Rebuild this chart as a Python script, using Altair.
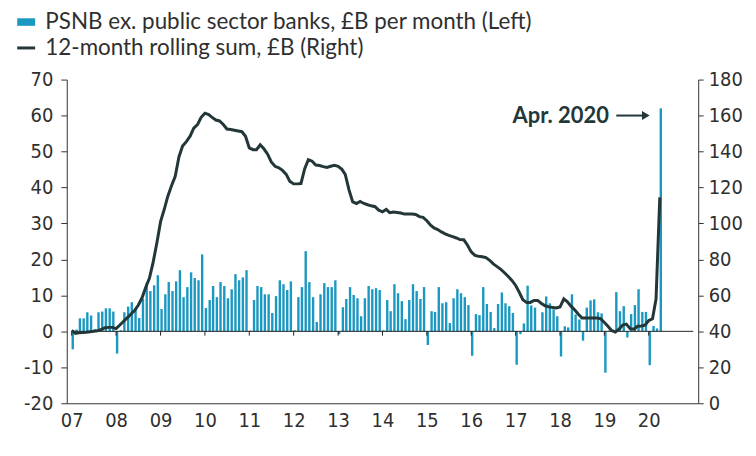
import altair as alt
import pandas as pd

# ---- data ----
bar_2007 = [-5.0, 0.5, 3.6, 3.6, 5.3, 4.4, 0.6, 5.3, 5.5, 6.4, 6.4, 5.5]
bar_2008 = [-6.2, 0.3, 5.3, 6.9, 8.1, 6.4, 3.7, 9.0, 13.4, 11.2, 12.8, 15.6]
bar_2009 = [6.2, 10.3, 13.7, 11.2, 13.9, 17.0, 9.5, 12.3, 16.4, 14.8, 14.2, 21.4]
bar_2010 = [6.5, 8.7, 12.6, 9.5, 13.7, 12.6, 9.2, 11.7, 15.9, 14.2, 15.0, 17.0]
bar_2011 = [0.2, 8.7, 12.6, 12.3, 10.3, 10.3, 5.1, 9.8, 14.2, 13.1, 11.5, 13.9]
bar_2012 = [0.3, 9.5, 12.3, 22.3, 13.7, 9.5, 2.6, 10.3, 13.4, 12.3, 12.3, 14.2]
bar_2013 = [-0.8, 6.7, 9.0, 12.3, 10.1, 9.2, 4.2, 9.2, 12.6, 11.7, 12.0, 11.5]
bar_2014 = [0.3, 8.7, 5.6, 13.1, 10.6, 8.4, 3.4, 8.7, 13.1, 11.2, 9.0, 12.3]
bar_2015 = [-3.8, 5.6, 5.4, 12.3, 7.8, 8.1, 2.3, 9.2, 11.7, 10.6, 9.5, 7.3]
bar_2016 = [-6.8, 4.8, 4.5, 12.3, 7.6, 5.4, 0.9, 7.6, 10.8, 7.8, 7.0, 5.1]
bar_2017 = [-9.3, -0.8, 2.2, 12.7, 7.2, 6.6, 0.2, 5.3, 9.7, 7.8, 6.1, 4.2]
bar_2018 = [-7.0, 1.4, 1.1, 10.3, 4.7, 3.3, -2.6, 6.6, 8.6, 8.9, 5.3, 5.0]
bar_2019 = [-11.5, 0.2, 0.1, 10.9, 5.6, 7.0, -1.7, 4.8, 7.3, 11.7, 5.4, 5.4]
bar_2020 = [-9.4, 1.5, 0.8, 62.0]

sum_2007 = [40.5, 38.8, 39.2, 39.4, 39.5, 39.8, 40.0, 40.3, 41.0, 42.0, 42.2, 42.2]
sum_2008 = [41.5, 43.5, 45.5, 47.5, 49.5, 51.5, 54.5, 58.5, 64.5, 69.5, 78.5, 89.0]
sum_2009 = [101, 108, 115, 121, 126, 137, 143, 145.5, 148.5, 153, 155, 159]
sum_2010 = [161.3, 160.5, 159, 157.5, 157, 155, 152.5, 152.2, 151.8, 151.4, 151, 148.5]
sum_2011 = [142, 141, 141, 143.7, 141.5, 138.5, 134.2, 131.8, 130.9, 129.5, 127.3, 123.4]
sum_2012 = [122.0, 122.0, 122.2, 130.5, 135.5, 134.6, 132.5, 132.2, 131.6, 131.1, 131.8, 132.3]
sum_2013 = [131.8, 130.1, 127.2, 118.5, 112.0, 111.1, 112.2, 111.1, 110.4, 109.8, 109.3, 107.4]
sum_2014 = [106.5, 107.8, 106.0, 106.3, 106.1, 105.8, 105.2, 105.2, 105.2, 105.0, 103.8, 103.4]
sum_2015 = [101.5, 99.0, 97.5, 96.6, 95.3, 94.2, 93.4, 92.7, 91.9, 91.0, 90.9, 88.0]
sum_2016 = [84.2, 82.2, 81.8, 81.5, 81.0, 79.5, 77.5, 76.0, 74.5, 72.6, 70.5, 68.3]
sum_2017 = [65.5, 61.5, 57.6, 56.1, 56.1, 57.2, 57.2, 55.5, 54.2, 53.6, 53.3, 53.0]
sum_2018 = [53.5, 58.0, 56.5, 54.0, 52.0, 49.5, 47.4, 47.4, 47.4, 47.4, 47.4, 47.0]
sum_2019 = [44.9, 42.7, 40.5, 39.6, 41.2, 43.5, 44.0, 41.5, 41.2, 42.8, 43.0, 43.4]
sum_2020 = [46.0, 47.0, 58.0, 114.5]

years = list(range(2007, 2021))
bar_series = [bar_2007, bar_2008, bar_2009, bar_2010, bar_2011, bar_2012, bar_2013,
              bar_2014, bar_2015, bar_2016, bar_2017, bar_2018, bar_2019, bar_2020]
sum_series = [sum_2007, sum_2008, sum_2009, sum_2010, sum_2011, sum_2012, sum_2013,
              sum_2014, sum_2015, sum_2016, sum_2017, sum_2018, sum_2019, sum_2020]
year_labels = [f"{y}/01/01" for y in years]

BAR_NAME = "PSNB ex. public sector banks, £B per month (Left)"
LINE_NAME = "12-month rolling sum, £B (Right)"
annot_text = ["Apr. 2020"]

rows = []
for y, bvals, svals in zip(years, bar_series, sum_series):
    for m, (b, s) in enumerate(zip(bvals, svals), start=1):
        rows.append({"date": f"{y}/{m:02d}/01", "psnb": b, "rolling": s,
                     "s1": BAR_NAME, "s2": LINE_NAME})
df = pd.DataFrame(rows)

# ---- styling ----
BAR_C = "#1b98c1"
LINE_C = "#233738"
TXT_C = "#2f2f2f"
NARROW = "Liberation Sans Narrow, DejaVu Sans Condensed, sans-serif"
LEG_FONT = "Lato, Open Sans, sans-serif"
LEG_SIZE = 22.5

xscale = alt.Scale(domain=["2007/01/01", "2021/01/01"])
yleft = alt.Scale(domain=[-20, 70], nice=False)
yright = alt.Scale(domain=[0, 180], nice=False)

x_axis = alt.Axis(
    values=[alt.DateTime(year=y, month=1, date=1) for y in years],
    format="%y", ticks=False, grid=False, domain=True, domainColor="#333",
    labelFont=NARROW, labelFontSize=20, labelColor=TXT_C, labelPadding=7,
    title=None, labelFlush=False,
)

left_axis = alt.Axis(
    values=list(range(-20, 71, 10)), grid=False, domain=True, domainColor="#333",
    tickColor="#333", tickSize=6, labelPadding=8, labelFont=NARROW,
    labelFontSize=20, labelColor=TXT_C, title=None, minExtent=54, maxExtent=54,
    labelExpr="'' + datum.value")

bars = alt.Chart(df).mark_bar(width=2.4, xOffset=1).encode(
    x=alt.X("date:T", scale=xscale, axis=x_axis),
    y=alt.Y("psnb:Q", scale=yleft, axis=left_axis),
    color=alt.Color("s1:N", scale=alt.Scale(domain=[BAR_NAME], range=[BAR_C]),
                    legend=alt.Legend(orient="none", legendX=-52, legendY=-69, title=None,
                                      padding=0, symbolType="M-1,-0.42H1V0.42H-1Z",
                                      symbolSize=324, labelFont=LEG_FONT,
                                      labelFontSize=LEG_SIZE, labelLimit=700,
                                      labelColor=TXT_C, labelOffset=8,
                                      symbolStrokeWidth=0)),
)

tick_df = pd.DataFrame({"date": year_labels, "y0": [0] * len(years), "y1": [-1.2] * len(years)})
year_ticks = alt.Chart(tick_df).mark_rule(color="#222", strokeWidth=1).encode(
    x=alt.X("date:T", scale=xscale, axis=x_axis),
    y=alt.Y("y0:Q", scale=yleft, axis=left_axis), y2="y1:Q")

zero_df = pd.DataFrame({"d0": ["2007/01/01"], "d1": ["2021/01/01"], "v": [0]})
zero_line = alt.Chart(zero_df).mark_rule(color="#222", strokeWidth=1).encode(
    x=alt.X("d0:T", scale=xscale, axis=x_axis), x2="d1:T",
    y=alt.Y("v:Q", scale=yleft, axis=left_axis))

ann_df = pd.DataFrame({"d": ["2019/02/07"], "v": [60], "t": annot_text,
                       "a0": ["2019/04/09"], "a1": ["2019/12/08"]})
ann_text = alt.Chart(ann_df).mark_text(
    align="right", baseline="middle", font=LEG_FONT, fontSize=22, fontWeight="bold",
    color=LINE_C).encode(x=alt.X("d:T", scale=xscale, axis=x_axis),
                         y=alt.Y("v:Q", scale=yleft, axis=left_axis), text="t:N")
ann_arrow = alt.Chart(ann_df).mark_rule(color=LINE_C, strokeWidth=2).encode(
    x=alt.X("a0:T", scale=xscale, axis=x_axis), x2="a1:T",
    y=alt.Y("v:Q", scale=yleft, axis=left_axis))
ann_head = alt.Chart(ann_df).mark_point(
    shape="triangle-right", filled=True, size=80, color=LINE_C, opacity=1).encode(
    x=alt.X("a1:T", scale=xscale, axis=x_axis),
    y=alt.Y("v:Q", scale=yleft, axis=left_axis))

left = alt.layer(bars, zero_line, year_ticks, ann_arrow, ann_head, ann_text)

line = alt.Chart(df).mark_line(strokeWidth=3).encode(
    x=alt.X("date:T", scale=xscale, axis=x_axis),
    y=alt.Y("rolling:Q", scale=yright, axis=alt.Axis(
        orient="right", values=list(range(0, 181, 20)), grid=False, domain=True,
        domainColor="#333", tickColor="#333", tickSize=5, labelPadding=5,
        labelFont=NARROW, labelFontSize=20, labelColor=TXT_C, title=None)),
    stroke=alt.Stroke("s2:N", scale=alt.Scale(domain=[LINE_NAME], range=[LINE_C]),
                      legend=alt.Legend(orient="none", legendX=-52, legendY=-43, title=None,
                                        padding=0, symbolType="stroke", symbolSize=324,
                                        symbolStrokeWidth=3, labelFont=LEG_FONT,
                                        labelFontSize=LEG_SIZE, labelLimit=700,
                                        labelColor=TXT_C, labelOffset=8)),
)

chart = alt.layer(left, line).resolve_scale(y="independent").properties(
    width=634, height=325,
    padding={"left": 5, "top": 2, "right": 5, "bottom": 5},
).configure_view(stroke=None)

chart.save("out.html", embed_options={"renderer": "svg", "actions": False})
